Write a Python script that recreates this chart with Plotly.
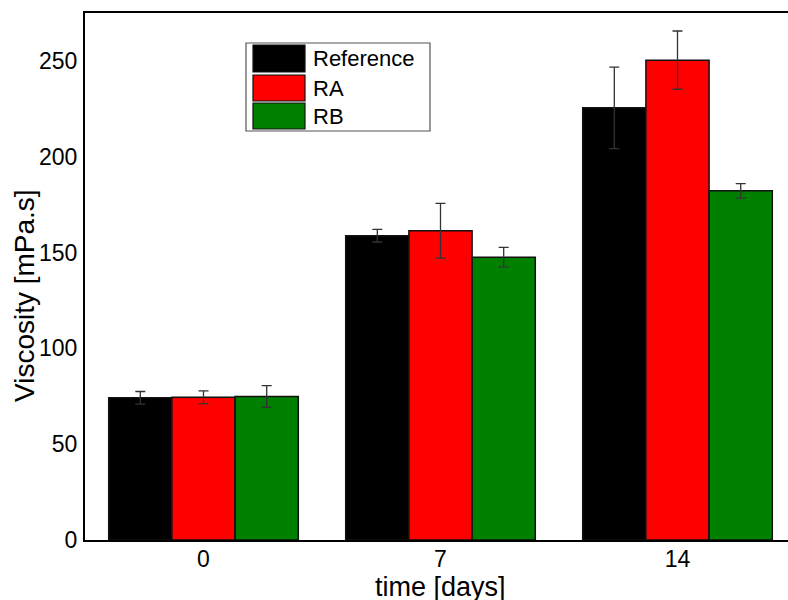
import plotly.graph_objects as go

categories = ["0", "7", "14"]
series_names = ["Reference", "RA", "RB"]
reference_vals = [74.2, 158.8, 225.5]
reference_err = [3.3, 3.3, 21.3]
ra_vals = [74.5, 161.4, 250.4]
ra_err = [3.3, 14.3, 15.2]
rb_vals = [74.9, 147.6, 182.2]
rb_err = [5.7, 5.1, 3.8]
colors = ["#000000", "#ff0000", "#008000"]

values = [reference_vals, ra_vals, rb_vals]
errors = [reference_err, ra_err, rb_err]

FONT = "Arial, Liberation Sans, sans-serif"

fig = go.Figure()
for name, v, e, c in zip(series_names, values, errors, colors):
    fig.add_trace(go.Bar(
        x=categories, y=v, name=name,
        marker=dict(color=c, line=dict(color="#111111", width=1.5)),
        error_y=dict(type="data", array=e, visible=True, color="#333333",
                     thickness=1.3, width=5),
        showlegend=False,
    ))

FW, FH = 788, 600
# plot area in pixels
L, R, T, B = 85, 788, 13, 540
W, H = R - L, B - T
UNIT = 237.0  # pixels per category step (plot continues past the right edge)

def px(x):
    return (x - L) / W

def py(y):
    return (B - y) / H

shapes = [dict(type="rect", xref="paper", yref="paper",
               x0=px(246), x1=px(430), y0=py(131), y1=py(43),
               line=dict(color="#555555", width=1.2), fillcolor="white", layer="above")]
annotations = []
sw_y = [(45, 72), (75, 101), (103, 129)]
for (y0, y1), name, c in zip(sw_y, series_names, colors):
    shapes.append(dict(type="rect", xref="paper", yref="paper",
                       x0=px(253), x1=px(305), y0=py(y1), y1=py(y0),
                       line=dict(color="#111111", width=1.2), fillcolor=c, layer="above"))
    annotations.append(dict(xref="paper", yref="paper", x=px(311), y=py((y0 + y1) / 2),
                            text=name, showarrow=False, xanchor="left", yanchor="middle",
                            font=dict(family=FONT, size=22, color="black")))

annotations.append(dict(xref="paper", yref="paper", x=px(440), y=py(587),
                        text="time [days]", showarrow=False, xanchor="center", yanchor="middle",
                        font=dict(family=FONT, size=27, color="black")))
annotations.append(dict(xref="paper", yref="paper", x=px(24), y=py(296),
                        text="Viscosity [mPa.s]", showarrow=False, textangle=-90,
                        xanchor="center", yanchor="middle",
                        font=dict(family=FONT, size=28, color="black")))

fig.update_layout(
    width=FW, height=FH,
    margin=dict(l=L, r=FW - R, t=T, b=FH - B, pad=0),
    paper_bgcolor="white", plot_bgcolor="white",
    barmode="group", bargap=0.2, bargroupgap=0,
    font=dict(family=FONT, size=23, color="black"),
    shapes=shapes, annotations=annotations,
    xaxis=dict(type="category", range=[-0.5, -0.5 + W / UNIT], automargin=False,
               showline=True, linecolor="black", linewidth=2, mirror=True,
               showgrid=False, zeroline=False, ticks="", ticklabelstandoff=-3,
               tickfont=dict(family=FONT, size=23, color="black")),
    yaxis=dict(range=[0, 275], dtick=50, tick0=0, automargin=False,
               showline=True, linecolor="black", linewidth=2, mirror=False,
               showgrid=False, zeroline=False, ticks="", ticklabelstandoff=1,
               tickfont=dict(family=FONT, size=23, color="black")),
)

fig.write_html(
    "out.html",
    config={"displayModeBar": False},
    post_script="document.body.style.margin='0';document.body.style.overflow='hidden';",
)
